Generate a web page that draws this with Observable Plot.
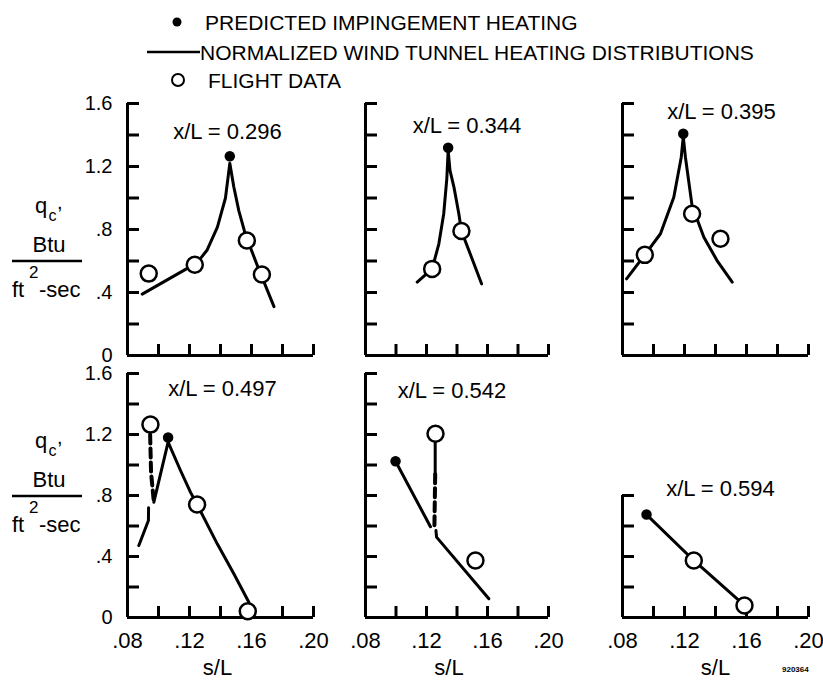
<!DOCTYPE html>
<html><head><meta charset="utf-8">
<script src="https://cdn.jsdelivr.net/npm/d3@7"></script>
<script src="https://cdn.jsdelivr.net/npm/@observablehq/plot@0.6"></script>
<style>
body{margin:0;background:#fff;}
#chart{position:relative;width:823px;height:681px;overflow:hidden;background:#fff;font-family:"Liberation Sans",Arial,sans-serif;color:#000;}
#chart svg{position:absolute;overflow:visible;}
</style></head><body><div id="chart"></div>
<script>
// ---------- data ----------
const panelTitles = ["x/L = 0.296", "x/L = 0.344", "x/L = 0.395", "x/L = 0.497", "x/L = 0.542", "x/L = 0.594"];

// x/L = 0.296
const curve296S = [0.0895, 0.1234, 0.127, 0.1314, 0.138, 0.1432, 0.146, 0.1486, 0.1518, 0.156, 0.164, 0.1745];
const curve296Q = [0.39, 0.58, 0.615, 0.67, 0.815, 1.0, 1.22, 1.07, 0.92, 0.77, 0.565, 0.31];
const pred296S = [0.146], pred296Q = [1.265];
const flight296S = [0.0937, 0.1234, 0.157, 0.1667];
const flight296Q = [0.52, 0.576, 0.73, 0.514];

// x/L = 0.344
const curve344S = [0.1139, 0.1237, 0.1281, 0.1313, 0.1333, 0.1342, 0.1354, 0.138, 0.1412, 0.1429, 0.1495, 0.1561];
const curve344Q = [0.466, 0.55, 0.709, 0.9, 1.12, 1.3, 1.175, 1.069, 0.9, 0.79, 0.624, 0.455];
const pred344S = [0.1342], pred344Q = [1.319];
const flight344S = [0.1237, 0.1429];
const flight344Q = [0.55, 0.79];

// x/L = 0.395
const curve395S = [0.0826, 0.0944, 0.1045, 0.1131, 0.1179, 0.1192, 0.1206, 0.1249, 0.1325, 0.141, 0.1508];
const curve395Q = [0.487, 0.639, 0.773, 1.005, 1.259, 1.39, 1.259, 0.95, 0.751, 0.603, 0.466];
const pred395S = [0.1192], pred395Q = [1.408];
const flight395S = [0.0944, 0.1249, 0.1432];
const flight395Q = [0.639, 0.9, 0.741];

// x/L = 0.497
const curve497S = [0.097, 0.1062, 0.1142, 0.1206, 0.1249, 0.1379, 0.1486, 0.1583];
const curve497Q = [0.756, 1.15, 0.964, 0.822, 0.741, 0.483, 0.287, 0.1];
const curve497bS = [0.0873, 0.0935, 0.0936];
const curve497bQ = [0.472, 0.636, 0.72];
const dash497S = [0.0946, 0.0952, 0.097];
const dash497Q = [1.2, 0.95, 0.756];
const pred497S = [0.1062], pred497Q = [1.18];
const flight497S = [0.0948, 0.1249, 0.1576];
const flight497Q = [1.265, 0.741, 0.041];

// x/L = 0.542
const curve542S = [0.0997, 0.1226];
const curve542Q = [1.025, 0.595];
const curve542bS = [0.1257, 0.1257];
const curve542bQ = [1.15, 0.94];
const curve542cS = [0.1262, 0.1266, 0.1609];
const curve542cQ = [0.57, 0.527, 0.123];
const dash542S = [0.1257, 0.1252];
const dash542Q = [0.94, 0.6];
const pred542S = [0.0997], pred542Q = [1.025];
const flight542S = [0.1259, 0.1521];
const flight542Q = [1.205, 0.374];

// x/L = 0.594
const curve594S = [0.0955, 0.126, 0.1587];
const curve594Q = [0.675, 0.374, 0.079];
const pred594S = [0.0955], pred594Q = [0.675];
const flight594S = [0.126, 0.1587];
const flight594Q = [0.374, 0.079];

// ticks
const xDomain = [0.08, 0.20];
const yDomain = [0, 1.6];
const xMinorTicks = [0.10, 0.12, 0.14, 0.16, 0.18, 0.20];
const yMinorTicks = [0.2, 0.4, 0.6, 0.8, 1.0, 1.2, 1.4, 1.6];
const xLabelVals = [0.08, 0.12, 0.16, 0.20];
const xLabelText = [".08", ".12", ".16", ".20"];
const yLabelVals = [0, 0.4, 0.8, 1.2, 1.6];
const yLabelText = ["0", ".4", ".8", "1.2", "1.6"];
const yAxisTop = [1.6, 1.6, 1.6, 1.6, 1.6, 0.8];

const pts = (s, q) => s.map((v, k) => ({s: v, q: q[k]}));
const panels = [
  {solid: [pts(curve296S, curve296Q)], dashed: [], pred: pts(pred296S, pred296Q), flight: pts(flight296S, flight296Q)},
  {solid: [pts(curve344S, curve344Q)], dashed: [], pred: pts(pred344S, pred344Q), flight: pts(flight344S, flight344Q)},
  {solid: [pts(curve395S, curve395Q)], dashed: [], pred: pts(pred395S, pred395Q), flight: pts(flight395S, flight395Q)},
  {solid: [pts(curve497S, curve497Q), pts(curve497bS, curve497bQ)], dashed: [pts(dash497S, dash497Q)], pred: pts(pred497S, pred497Q), flight: pts(flight497S, flight497Q)},
  {solid: [pts(curve542S, curve542Q), pts(curve542bS, curve542bQ), pts(curve542cS, curve542cQ)], dashed: [pts(dash542S, dash542Q)], pred: pts(pred542S, pred542Q), flight: pts(flight542S, flight542Q)},
  {solid: [pts(curve594S, curve594Q)], dashed: [], pred: pts(pred594S, pred594Q), flight: pts(flight594S, flight594Q)}
];

// ---------- layout ----------
const cols = [{x0: 127, x1: 313}, {x0: 365, x1: 548}, {x0: 622, x1: 808}];
const rows = [{y0: 103, y1: 355}, {y0: 373, y1: 617}];
const titleOffset = [[7, 35], [10, 29], [6, 15], [2, 22], [-5, 24], [5, 122]];
const sLabelDx = [-3, -8, 0];
const FONT = '"Liberation Sans", Arial, sans-serif';
const Y_TICK_PX = 12, X_TICK_PX = 11;

const chart = document.getElementById("chart");

panels.forEach((p, i) => {
  const c = i % 3, r = Math.floor(i / 3);
  const {x0, x1} = cols[c], {y0, y1} = rows[r];
  const fw = x1 - x0, fh = y1 - y0;
  const ml = 130, mr = 14, mt = 14, mb = 70;
  const qTop = yAxisTop[i];
  // tick lengths expressed in data units so the marks go through the scales
  const yTickLen = Y_TICK_PX * (xDomain[1] - xDomain[0]) / fw;
  const xTickLen = X_TICK_PX * (yDomain[1] - yDomain[0]) / fh;
  const marks = [
    Plot.ruleX([xDomain[0]], {y1: 0, y2: qTop, strokeWidth: 3}),
    Plot.ruleY([0], {x1: xDomain[0], x2: xDomain[1], strokeWidth: 3}),
    Plot.ruleY(yMinorTicks.filter(v => v <= qTop + 1e-9), {y: d => d, x1: xDomain[0], x2: xDomain[0] + yTickLen, strokeWidth: 3}),
    Plot.ruleX(xMinorTicks, {x: d => d, y1: 0, y2: xTickLen, strokeWidth: 3})
  ];
  if (c === 0) marks.push(Plot.text(yLabelVals, {x: xDomain[0], y: d => d, text: (d, k) => yLabelText[k], textAnchor: "end", dx: -15, fontSize: 20}));
  if (r === 1) {
    marks.push(Plot.text(xLabelVals, {x: d => d, y: 0, text: (d, k) => xLabelText[k], lineAnchor: "top", dy: 15, fontSize: 22}));
    marks.push(Plot.text(["s/L"], {frameAnchor: "bottom", lineAnchor: "bottom", dy: 57, dx: sLabelDx[c], fontSize: 22}));
  }
  marks.push(Plot.text([panelTitles[i]], {frameAnchor: "top", lineAnchor: "bottom", dx: titleOffset[i][0], dy: titleOffset[i][1], fontSize: 22}));
  p.solid.forEach(d => marks.push(Plot.line(d, {x: "s", y: "q", strokeWidth: 3, strokeLinejoin: "round"})));
  p.dashed.forEach(d => marks.push(Plot.line(d, {x: "s", y: "q", strokeWidth: 4, strokeDasharray: "9,5"})));
  marks.push(Plot.dot(p.flight, {x: "s", y: "q", r: 8, fill: "white", stroke: "black", strokeWidth: 2.5}));
  marks.push(Plot.dot(p.pred, {x: "s", y: "q", r: 4.5, fill: "black", stroke: "black"}));

  const fig = Plot.plot({
    width: ml + fw + mr,
    height: mt + fh + mb,
    marginLeft: ml, marginRight: mr, marginTop: mt, marginBottom: mb,
    style: {background: "transparent", fontFamily: FONT, fontSize: "22px", color: "black", overflow: "visible"},
    x: {domain: xDomain, axis: null},
    y: {domain: yDomain, axis: null},
    marks
  });
  fig.style.left = (x0 - ml) + "px";
  fig.style.top = (y0 - mt) + "px";
  chart.appendChild(fig);
});

// ---------- legend, axis title, note ----------
const NS = "http://www.w3.org/2000/svg";
const over = document.createElementNS(NS, "svg");
over.setAttribute("width", 823); over.setAttribute("height", 681);
over.style.left = "0px"; over.style.top = "0px";
over.setAttribute("font-family", FONT);
function el(tag, attrs, text) {
  const e = document.createElementNS(NS, tag);
  for (const k in attrs) e.setAttribute(k, attrs[k]);
  if (text != null) e.textContent = text;
  over.appendChild(e);
  return e;
}
// legend
el("circle", {cx: 177, cy: 22, r: 4.5, fill: "black"});
el("text", {x: 205, y: 30, "font-size": 21}, "PREDICTED IMPINGEMENT HEATING");
el("line", {x1: 147, x2: 200, y1: 52, y2: 52, stroke: "black", "stroke-width": 2.5});
el("text", {x: 200, y: 60, "font-size": 21}, "NORMALIZED WIND TUNNEL HEATING DISTRIBUTIONS");
el("circle", {cx: 178, cy: 80, r: 6, fill: "none", stroke: "black", "stroke-width": 2});
el("text", {x: 208, y: 88, "font-size": 21}, "FLIGHT DATA");
// y-axis titles
[0, 235].forEach(off => {
  el("text", {x: 35, y: 213 + off, "font-size": 22}, "q");
  el("text", {x: 48.5, y: 221 + off, "font-size": 16}, "c");
  el("text", {x: 57, y: 209 + off, "font-size": 20}, ",");
  el("text", {x: 49, y: 252 + off, "font-size": 22, "text-anchor": "middle"}, "Btu");
  el("line", {x1: 12, x2: 82, y1: 261 + off, y2: 261 + off, stroke: "black", "stroke-width": 2.5});
  el("text", {x: 12, y: 297 + off, "font-size": 22}, "ft");
  el("text", {x: 29, y: 278 + off, "font-size": 17}, "2");
  el("text", {x: 39, y: 297 + off, "font-size": 22}, "-sec");
});
el("text", {x: 782, y: 672, "font-size": 8, "font-weight": "bold"}, "920364");
chart.appendChild(over);
</script></body></html>
